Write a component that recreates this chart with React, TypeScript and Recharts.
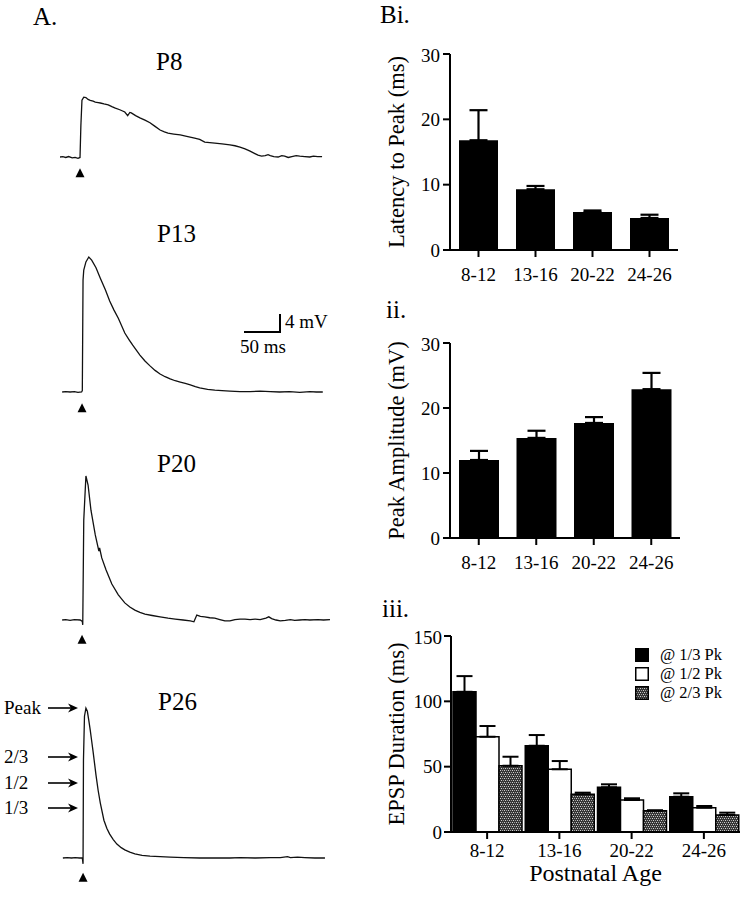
import React from 'react';
import {
  BarChart, Bar, XAxis, YAxis, ErrorBar, Legend,
  LineChart, Line, ReferenceDot,
} from 'recharts';

const FONT = '"Liberation Serif", "Times New Roman", serif';

// ── panel B: group means and SEM ──
const ages = ['8-12', '13-16', '20-22', '24-26'];
const latencyMean = [16.8, 9.3, 5.8, 4.9];
const latencySem = [4.6, 0.5, 0.25, 0.5];
const amplitudeMean = [12.0, 15.4, 17.7, 22.9];
const amplitudeSem = [1.4, 1.1, 0.9, 2.5];
const durThirdMean = [107.3, 66.0, 34.2, 27.0];
const durThirdSem = [12.0, 8.2, 2.3, 2.6];
const durHalfMean = [72.9, 48.0, 24.5, 18.6];
const durHalfSem = [8.2, 6.3, 1.3, 1.3];
const durTwoThirdMean = [50.7, 28.8, 16.3, 13.0];
const durTwoThirdSem = [6.9, 1.3, 0.3, 1.8];
const durNames = ['@ 1/3 Pk', '@ 1/2 Pk', '@ 2/3 Pk'];

// ── panel A: example EPSP traces, [time ms, mV] ──
const p8Trace = [
  [0, 0], [4, 0.1], [8, -0.1], [12, 0.1], [17, -0.2], [21, -0.1], [25, -0.3], [27.8, -0.1],
  [29, 7], [30.5, 12.6], [33, 13.3], [36, 13.2], [39, 12.8], [42, 12.6], [46, 12.4],
  [49, 12.2], [53, 12.1], [56, 12.0], [61, 11.8], [67, 11.6], [72, 11.2], [76, 10.9],
  [83, 10.5], [90, 10.0], [94, 9.2], [97, 9.9], [99, 9.8], [105, 9.2], [111, 8.7],
  [118, 8.2], [125, 7.6], [132, 6.8], [139, 6.0], [145, 5.6], [150, 5.3], [158, 5.1],
  [167, 4.9], [176, 4.6], [187, 4.2], [194, 3.9], [201, 3.3], [208, 3.2], [215, 3.1],
  [225, 2.9], [236, 2.7], [243, 2.5], [250, 2.2], [257, 1.8], [264, 1.3], [270, 0.8],
  [275, 0.4], [280, 0.2], [285, 0.3], [289, 0.5], [292, 0.3], [297, 0.1], [303, 0],
  [308, 0.3], [312, 0.2], [317, -0.1], [322, 0.1], [328, 0.3], [333, 0.2], [340, 0.1],
  [347, 0], [352, 0.2], [358, 0.1], [364, 0.1],
];
const p13Trace = [
  [3, 0], [8, 0.1], [14, 0], [20, 0.1], [25, -0.1], [30, 0], [31, 0.3], [32, 24.9],
  [33, 27.1], [36, 28.9], [40, 30.0], [44, 29.3], [50, 27.6], [56, 25.3], [63, 22.7],
  [69, 20.2], [75, 18.2], [81, 16.4], [90, 13.1], [96, 11.6], [101, 10.4], [111, 8.2],
  [118, 6.9], [125, 5.8], [132, 4.8], [139, 4.0], [146, 3.4], [153, 2.9], [160, 2.5],
  [167, 2.2], [174, 1.9], [181, 1.6], [188, 1.2], [194, 0.9], [205, 0.6], [215, 0.4],
  [225, 0.3], [236, 0.2], [250, 0.1], [264, 0.1], [278, 0.2], [292, 0.1], [305, 0],
  [319, 0.1], [333, -0.1], [347, 0.1], [356, 0], [365, 0],
];
const p20Trace = [
  [3, 0], [8, 0.1], [14, -0.1], [20, 0.1], [28, 0], [31, -0.3], [31.6, -1.1],
  [33, 22.2], [36, 32.0], [39, 30.0], [43, 24.4], [49, 18.9], [54, 15.3], [55, 16.0],
  [58, 13.8], [64, 11.1], [72, 8.0], [81, 5.6], [90, 3.8], [97, 2.9], [104, 2.2],
  [111, 1.7], [118, 1.3], [128, 1.0], [139, 0.7], [150, 0.4], [160, 0.2], [171, 0],
  [181, -0.2], [186, -0.4], [190, 1.1], [195, 0.8], [201, 0.7], [208, 0.5], [215, 0.4],
  [222, 0.1], [229, -0.2], [236, -0.2], [243, 0.1], [250, 0.2], [257, 0.2], [264, 0.1],
  [271, 0.2], [278, 0.1], [286, 0.4], [290, 0.7], [294, 0.3], [300, 0], [306, -0.2],
  [313, -0.1], [320, 0.1], [326, -0.1], [333, 0], [340, 0.1], [347, 0], [358, 0.1],
  [366, 0], [375, 0.1],
];
const p26Trace = [
  [4, 0], [10, 0.1], [16, 0], [21, 0.1], [27, 0], [31, 0], [32, -1.3], [32.6, 21.8],
  [34, 31.5], [36, 33.3], [38, 32.6], [40, 30.6], [42, 28.4], [44, 26.0], [46, 23.6],
  [50, 18.4], [53, 15.0], [56, 12.2], [61, 8.4], [65, 6.6], [69, 5.3], [74, 4.1],
  [79, 3.1], [85, 2.3], [90, 1.8], [97, 1.3], [104, 0.9], [114, 0.6], [125, 0.4],
  [139, 0.3], [153, 0.2], [172, 0.1], [194, 0], [215, 0], [236, 0], [250, 0.1],
  [271, 0], [292, 0.1], [306, 0.1], [316, 0.3], [320, 0.1], [330, 0.2], [340, 0.1],
  [354, 0], [368, 0],
];

// trace geometry: 50 ms = 36 px, 4 mV = 18 px
const T_MAX = 380;
const V_MIN = -6;
const V_MAX = 34;
const TRACE_W = T_MAX * 0.72;
const TRACE_H = (V_MAX - V_MIN) * 4.5;

const rowsOf = (mean: number[], sem: number[]) =>
  ages.map((age, i) => ({ age, value: mean[i], err: [0, sem[i]] }));

const latencyRows = rowsOf(latencyMean, latencySem);
const amplitudeRows = rowsOf(amplitudeMean, amplitudeSem);
const durationRows = ages.map((age, i) => ({
  age,
  third: durThirdMean[i], thirdErr: [0, durThirdSem[i]],
  half: durHalfMean[i], halfErr: [0, durHalfSem[i]],
  twoThird: durTwoThirdMean[i], twoThirdErr: [0, durTwoThirdSem[i]],
}));

const axisStroke = { stroke: '#000', strokeWidth: 2 };
const tickFont = { fill: '#000', fontSize: 19, fontFamily: FONT };
const titleStyle = { fill: '#000', fontSize: 22.5, fontFamily: FONT, textAnchor: 'middle' as const };

const Triangle = (props: any) => {
  const { cx, cy } = props;
  return <path d={`M${cx} ${cy - 5} L${cx + 4.5} ${cy + 4} L${cx - 4.5} ${cy + 4} Z`} fill="#000" />;
};

function Trace({ data, top, stim, mark }: { data: number[][]; top: number; stim: number; mark: number }) {
  const rows = data.map(([t, v]) => ({ t, v }));
  return (
    <div style={{ position: 'absolute', left: 60, top }}>
      <LineChart width={TRACE_W} height={TRACE_H} data={rows} margin={{ top: 0, right: 0, bottom: 0, left: 0 }}>
        <XAxis type="number" dataKey="t" domain={[0, T_MAX]} hide />
        <YAxis type="number" domain={[V_MIN, V_MAX]} hide />
        <Line type="linear" dataKey="v" stroke="#111" strokeWidth={1.3} dot={false} isAnimationActive={false} />
        <ReferenceDot x={stim} y={mark} r={5} shape={Triangle} />
      </LineChart>
    </div>
  );
}

function SingleBars({ rows, top, width, label }: { rows: any[]; top: number; width: number; label: string }) {
  return (
    <div style={{ position: 'absolute', left: 380, top }}>
      <BarChart width={width} height={top === 44 ? 246 : 245} data={rows}
        margin={{ top: 10, right: 12, bottom: 0, left: 0 }} barCategoryGap={9}>
        <XAxis dataKey="age" interval={0} height={40} tick={tickFont} tickSize={7} tickMargin={11}
          tickLine={axisStroke} axisLine={axisStroke} />
        <YAxis domain={[0, 30]} ticks={[0, 10, 20, 30]} width={70} tick={tickFont} tickSize={7} tickMargin={3}
          tickLine={axisStroke} axisLine={axisStroke}
          label={{ value: label, angle: -90, position: 'insideLeft', offset: 16, style: titleStyle }} />
        <Bar dataKey="value" fill="#000" isAnimationActive={false}>
          <ErrorBar dataKey="err" direction="y" width={9} stroke="#000" strokeWidth={2.2} />
        </Bar>
      </BarChart>
    </div>
  );
}

const DurationLegend = (props: any) => {
  const items = [...(props.payload || [])].sort(
    (a: any, b: any) => durNames.indexOf(a.value) - durNames.indexOf(b.value));
  return (
    <div style={{ fontFamily: FONT, fontSize: 16.5, color: '#000' }}>
      {items.map((entry: any) => (
        <div key={entry.value} style={{ display: 'flex', alignItems: 'center', height: 19 }}>
          <svg width={14} height={14}>
            <rect x={0.75} y={0.75} width={12.5} height={12.5}
              fill={entry.payload?.fill ?? entry.color} stroke="#000" strokeWidth={1.5} />
          </svg>
          <span style={{ marginLeft: 11, whiteSpace: 'nowrap', lineHeight: '17px' }}>{entry.value}</span>
        </div>
      ))}
    </div>
  );
};

function DurationBars() {
  const fills = ['#000', '#fff', 'url(#dither)'];
  const keys = ['third', 'half', 'twoThird'];
  return (
    <div style={{ position: 'absolute', left: 380, top: 626 }}>
      <BarChart width={365} height={266} data={durationRows}
        margin={{ top: 10, right: 5, bottom: 0, left: 0 }} barCategoryGap={2} barGap={0}>
        <defs>
          <pattern id="dither" width={4} height={4} patternUnits="userSpaceOnUse" shapeRendering="crispEdges">
            <rect width={4} height={4} fill="#363636" />
            <rect x={0} y={0} width={1} height={1} fill="#d0d0d0" />
            <rect x={2} y={0} width={1} height={1} fill="#a0a0a0" />
            <rect x={1} y={2} width={1} height={1} fill="#d0d0d0" />
            <rect x={3} y={2} width={1} height={1} fill="#a0a0a0" />
          </pattern>
        </defs>
        <XAxis dataKey="age" interval={0} height={60} tick={tickFont} tickSize={7} tickMargin={5}
          tickLine={axisStroke} axisLine={axisStroke}
          label={{ value: 'Postnatal Age', position: 'insideBottom', offset: 11,
            style: { fill: '#000', fontSize: 24, fontFamily: FONT } }} />
        <YAxis domain={[0, 150]} ticks={[0, 50, 100, 150]} width={71} tick={tickFont} tickSize={7} tickMargin={2}
          tickLine={axisStroke} axisLine={axisStroke}
          label={{ value: 'EPSP Duration (ms)', angle: -90, position: 'insideLeft', offset: 16, style: titleStyle }} />
        <Legend layout="vertical" align="center" verticalAlign="middle" content={DurationLegend}
          wrapperStyle={{ left: 255, top: 19, width: 110, height: 60 }} />
        {keys.map((k, i) => (
          <Bar key={k} dataKey={k} name={durNames[i]} fill={fills[i]} stroke="#000" strokeWidth={1.5}
            isAnimationActive={false}>
            <ErrorBar dataKey={`${k}Err`} direction="y" width={8} stroke="#000" strokeWidth={2} />
          </Bar>
        ))}
      </BarChart>
    </div>
  );
}

function Arrow({ y, label }: { y: number; label: string }) {
  return (
    <g>
      <text x={4} y={y + 6} fontSize={19}>{label}</text>
      <line x1={48} y1={y} x2={72} y2={y} stroke="#000" strokeWidth={1.6} />
      <path d={`M78 ${y} L68 ${y - 4.5} L71 ${y} L68 ${y + 4.5} Z`} fill="#000" />
    </g>
  );
}

export default function App() {
  return (
    <div style={{ position: 'absolute', left: 0, top: 0, width: 749, height: 899, background: '#fff', fontFamily: FONT }}>
      <Trace data={p8Trace} top={157 - 153} stim={27.8} mark={-3.6} />
      <Trace data={p13Trace} top={392 - 153} stim={30.6} mark={-3.6} />
      <Trace data={p20Trace} top={620 - 153} stim={30.6} mark={-4.4} />
      <Trace data={p26Trace} top={858 - 153} stim={32} mark={-4.4} />

      <SingleBars rows={latencyRows} top={44} width={310} label="Latency to Peak (ms)" />
      <SingleBars rows={amplitudeRows} top={333} width={312} label="Peak Amplitude (mV)" />
      <DurationBars />

      <svg width={749} height={899} style={{ position: 'absolute', left: 0, top: 0, pointerEvents: 'none' }}
        fontFamily={FONT} fill="#000">
        <text x={33} y={25} fontSize={25}>A.</text>
        <text x={380} y={23} fontSize={25}>Bi.</text>
        <text x={386} y={318} fontSize={25}>ii.</text>
        <text x={382} y={617} fontSize={25}>iii.</text>

        <text x={156} y={70} fontSize={25}>P8</text>
        <text x={157} y={242} fontSize={25}>P13</text>
        <text x={157} y={472} fontSize={25}>P20</text>
        <text x={158} y={710} fontSize={25}>P26</text>

        <path d="M244 332 H280 V314" stroke="#000" strokeWidth={2} fill="none" />
        <text x={285} y={328} fontSize={19}>4 mV</text>
        <text x={240} y={353} fontSize={19}>50 ms</text>

        <Arrow y={708} label="Peak" />
        <Arrow y={757} label="2/3" />
        <Arrow y={783} label="1/2" />
        <Arrow y={808} label="1/3" />
      </svg>
    </div>
  );
}
